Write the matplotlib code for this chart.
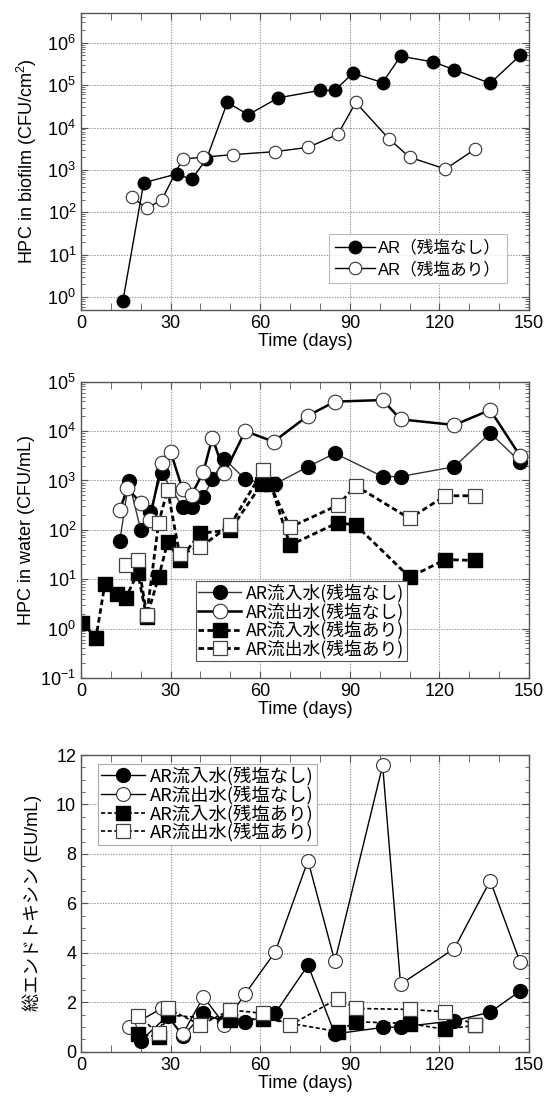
import matplotlib
matplotlib.use("Agg")
import matplotlib.pyplot as plt
from matplotlib.ticker import MultipleLocator, LogLocator, NullFormatter

plt.rcParams['font.family'] = ['Liberation Sans', 'Noto Sans CJK JP']
plt.rcParams['mathtext.fontset'] = 'custom'
plt.rcParams['mathtext.rm'] = 'Liberation Sans'
plt.rcParams['mathtext.it'] = 'Liberation Sans'

# ---------------- data ----------------
# Panel 1: HPC in biofilm
bf_days_no = [14, 21, 32, 37, 42, 49, 56, 66, 80, 85, 91, 101, 107, 118, 125, 137, 147]
bf_no = [0.8, 500, 800, 600, 1800, 39000, 20000, 50000, 75000, 75000, 190000,
         115000, 480000, 350000, 230000, 110000, 500000]
bf_days_cl = [17, 22, 27, 34, 41, 51, 65, 76, 86, 92, 103, 110, 122, 132]
bf_cl = [230, 125, 195, 1800, 2000, 2300, 2700, 3400, 6900, 39000, 5500, 2000, 1050, 3100]

# Panel 2: HPC in water
w_in_no_days = [13, 16, 20, 23, 27, 34, 37, 41, 44, 48, 55, 62, 65, 76, 85, 101, 107, 125, 137, 147]
w_in_no = [60, 980, 100, 225, 1400, 295, 295, 470, 1050, 2750, 1050, 850, 850,
           1900, 3550, 1200, 1200, 1900, 9100, 2400]
w_out_no_days = [13, 15.5, 20, 23, 27, 30, 34, 37, 41, 44, 48, 55, 64.5, 76, 85, 101, 107, 125, 137, 147]
w_out_no = [250, 690, 355, 160, 2250, 3800, 660, 510, 1500, 7400, 1400, 10000, 6100,
            20500, 39500, 42500, 17300, 13300, 26800, 3150]
w_in_cl_days = [0.5, 5, 8, 12, 15, 19, 22, 26, 29, 33, 40, 50, 60.5, 63.5, 70, 86, 92, 110, 122, 132]
w_in_cl = [1.3, 0.65, 8, 5, 4.2, 13.5, 1.7, 11, 56, 25, 85, 100, 850, 850, 49, 140, 125, 11, 25, 24]
w_out_cl_days = [15, 19, 22, 26, 29, 33, 40, 50, 61, 70, 86, 92, 110, 122, 132]
w_out_cl = [19, 24.5, 1.9, 140, 650, 32, 45, 125, 1600, 113, 315, 780, 170, 490, 490]

# Panel 3: total endotoxin
et_in_no_days = [20, 29, 34, 41, 48, 55, 65, 76, 85, 101, 107, 125, 137, 147]
et_in_no = [0.45, 1.45, 0.62, 1.55, 1.2, 1.2, 1.55, 3.5, 0.72, 0.98, 1.0, 1.25, 1.6, 2.45]
et_out_no_days = [16, 27, 34, 41, 48, 55, 65, 76, 85, 101, 107, 125, 137, 147]
et_out_no = [1.0, 1.75, 0.7, 2.22, 1.1, 2.35, 4.03, 7.73, 3.65, 11.58, 2.73, 4.17, 6.92, 3.63]
et_in_cl_days = [19, 26, 29, 50, 61, 86, 92, 110, 122, 132]
et_in_cl = [0.70, 0.61, 1.48, 1.3, 1.34, 0.81, 1.21, 1.14, 0.9, 1.07]
et_out_cl_days = [19, 26, 29, 40, 50, 61, 70, 86, 92, 110, 122, 132]
et_out_cl = [1.46, 0.74, 1.75, 1.08, 1.69, 1.55, 1.07, 2.15, 1.75, 1.71, 1.61, 1.07]

lab_bf = ['AR（残塩なし）', 'AR（残塩あり）']
lab_w = ['AR流入水(残塩なし)', 'AR流出水(残塩なし)', 'AR流入水(残塩あり)', 'AR流出水(残塩あり)']

xticks = [0, 30, 60, 90, 120, 150]

# ---------------- figure ----------------
fig = plt.figure(figsize=(5.47, 11.0), dpi=100)
L, W = 81 / 547, 448 / 547
ax1 = fig.add_axes([L, 1 - 310 / 1100, W, 297 / 1100])
ax2 = fig.add_axes([L, 1 - 678 / 1100, W, 296.3 / 1100])
ax3 = fig.add_axes([L, 1 - 1051.7 / 1100, W, 296.7 / 1100])

spine_c = '#555555'
grid_kw = dict(color='#999999', linestyle=(0, (1.2, 1.2)), linewidth=0.8)


def style(ax):
    ax.set_xlim(0, 150)
    ax.set_xticks(xticks)
    ax.xaxis.set_minor_locator(MultipleLocator(10))
    for s in ax.spines.values():
        s.set_color(spine_c)
        s.set_linewidth(1.0)
    ax.tick_params(which='both', direction='in', top=True, right=True, colors=spine_c,
                   labelcolor='black', labelsize=13)
    ax.tick_params(which='major', length=5, width=0.8)
    ax.tick_params(which='minor', length=3, width=0.6)
    ax.tick_params(axis='x', which='minor', length=5)
    ax.grid(True, which='major', **grid_kw)
    ax.set_axisbelow(True)
    ax.set_xlabel('Time (days)', fontsize=13, labelpad=1)


# Panel 1
ax1.set_yscale('log')
ax1.plot(bf_days_no, bf_no, '-o', color='black', lw=1.0, ms=9, mfc='black', mec='black',
         label=lab_bf[0])
ax1.plot(bf_days_cl, bf_cl, '-o', color='black', lw=1.0, ms=9, mfc='white', mec='#333333',
         mew=0.8, label=lab_bf[1])
style(ax1)
ax1.set_ylim(0.5, 5e6)
ax1.yaxis.set_major_locator(LogLocator(base=10, numticks=20))
ax1.yaxis.set_minor_locator(LogLocator(base=10, subs=range(2, 10), numticks=50))
ax1.yaxis.set_minor_formatter(NullFormatter())
ax1.set_ylabel('HPC in biofilm (CFU/cm$^2$)', fontsize=13, labelpad=6)
leg1 = ax1.legend(loc='lower right', bbox_to_anchor=(0.951, 0.091), borderaxespad=0,
                  prop={'family': ['Liberation Sans', 'Noto Sans CJK JP'], 'size': 12},
                  frameon=True, fancybox=False, edgecolor='#aaaaaa', handlelength=2.4,
                  borderpad=0.35, labelspacing=0.35, handletextpad=0.2)
leg1.get_frame().set_linewidth(0.8)

# Panel 2
ax2.set_yscale('log')
ax2.plot(w_in_no_days, w_in_no, '-o', color='#333333', lw=1.0, ms=10, mfc='black', mec='black',
         label=lab_w[0])
ax2.plot(w_out_no_days, w_out_no, '-o', color='black', lw=1.8, ms=10.5, mfc='white',
         mec='#333333', mew=0.8, label=lab_w[1])
ax2.plot(w_in_cl_days, w_in_cl, 's', color='black', ls=(0, (2, 1.2)), lw=2.0, ms=10.5,
         mfc='black', mec='black', label=lab_w[2])
ax2.plot(w_out_cl_days, w_out_cl, 's', color='black', ls=(0, (2, 1.2)), lw=2.0, ms=10.5,
         mfc='white', mec='#444444', mew=0.9, label=lab_w[3])
style(ax2)
ax2.set_ylim(0.1, 1e5)
ax2.yaxis.set_major_locator(LogLocator(base=10, numticks=20))
ax2.yaxis.set_minor_locator(LogLocator(base=10, subs=range(2, 10), numticks=50))
ax2.yaxis.set_minor_formatter(NullFormatter())
ax2.set_ylabel('HPC in water (CFU/mL)', fontsize=13, labelpad=4)
leg2 = ax2.legend(loc='lower left', bbox_to_anchor=(0.257, 0.058), borderaxespad=0,
                  prop={'family': ['Noto Sans CJK JP'], 'size': 12.8}, frameon=True,
                  fancybox=False, edgecolor='#555555', framealpha=1, handlelength=2.4,
                  borderpad=0.12, labelspacing=0.0, handletextpad=0.3)
leg2.get_frame().set_linewidth(0.8)
leg2.set_zorder(10)

# Panel 3
ax3.plot(et_in_no_days, et_in_no, '-o', color='black', lw=1.0, ms=10, mfc='black', mec='black',
         label=lab_w[0])
ax3.plot(et_out_no_days, et_out_no, '-o', color='black', lw=1.0, ms=10, mfc='white',
         mec='#333333', mew=0.8, label=lab_w[1])
ax3.plot(et_in_cl_days, et_in_cl, 's', color='black', ls=(0, (2.5, 1.5)), lw=1.2, ms=10.5,
         mfc='black', mec='black', label=lab_w[2])
ax3.plot(et_out_cl_days, et_out_cl, 's', color='black', ls=(0, (2.5, 1.5)), lw=1.2, ms=10.5,
         mfc='white', mec='#444444', mew=0.9, label=lab_w[3])
style(ax3)
ax3.set_ylim(0, 12)
ax3.yaxis.set_major_locator(MultipleLocator(2))
ax3.yaxis.set_minor_locator(MultipleLocator(0.5))
ax3.set_ylabel('総エンドトキシン (EU/mL)', fontsize=13, labelpad=10)
leg3 = ax3.legend(loc='upper left', bbox_to_anchor=(0.038, 0.970), borderaxespad=0,
                  prop={'family': ['Noto Sans CJK JP'], 'size': 13.2}, frameon=True,
                  fancybox=False, edgecolor='#aaaaaa', framealpha=1, handlelength=2.4,
                  borderpad=0.15, labelspacing=0.0, handletextpad=0.3)
leg3.get_frame().set_linewidth(0.8)

fig.savefig('out.png', dpi=100)
